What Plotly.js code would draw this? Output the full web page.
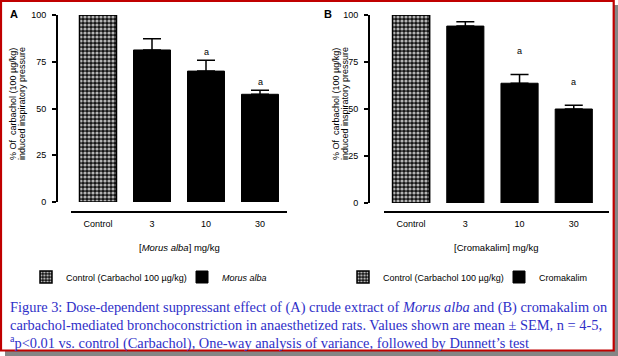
<!DOCTYPE html>
<html><head><meta charset="utf-8">
<script src="https://cdn.plot.ly/plotly-3.0.1.min.js"></script>
<style>html,body{margin:0;padding:0;background:#fff}#chart{width:618px;height:356px}</style>
</head><body><div id="chart"></div><script>
// ---- data ----
const categories = ['Control', '3', '10', '30'];
const morusValues = [100, 81.3, 70.0, 57.6];
const morusErrors = [0, 6.0, 5.8, 2.2];
const cromaValues = [100, 94.1, 63.7, 50.0];
const cromaErrors = [0, 2.3, 4.6, 2.0];
const sigMorus = ['', '', 'a', 'a'];
const sigCroma = ['', '', 'a', 'a'];
const yTickVals = [0, 25, 50, 75, 100];
const controlName = 'Control (Carbachol 100 µg/kg)';
const morusName = '<i>Morus alba</i>';
const cromaName = 'Cromakalim';
const yTitleLines = ['% Of  carbachol (100 µg/kg)', 'induced inspiratory pressure'];
const captionLines = [
  'Figure 3: Dose-dependent suppressant effect of (A) crude extract of <i>Morus alba</i> and (B) cromakalim on',
  'carbachol-mediated bronchoconstriction in anaesthetized rats. Values shown are mean ± SEM, n = 4-5,',
  '<sup>a</sup>p&lt;0.01 vs. control (Carbachol), One-way analysis of variance, followed by Dunnett’s test'
];

// ---- helpers ----
const W = 618, H = 356;
const px = v => v / W;
const py = v => 1 - v / H;
const FONT = 'Liberation Sans, Arial, sans-serif';
const pattern = {shape: '.', fgcolor: '#b4b4b4', bgcolor: '#151515', size: 4, solidity: 0.5, fillmode: 'replace'};

function panelTraces(values, errors, treatName, xa, ya, lg) {
  return [
    {type: 'bar', x: categories.slice(0, 1), y: values.slice(0, 1), name: controlName,
     xaxis: xa, yaxis: ya, legend: lg, legendwidth: 111, cliponaxis: false,
     marker: {color: '#151515', pattern: pattern, line: {color: '#000', width: 1.5}}},
    {type: 'bar', x: categories.slice(1), y: values.slice(1), name: treatName,
     xaxis: xa, yaxis: ya, legend: lg, cliponaxis: false,
     marker: {color: '#000000', line: {color: '#000', width: 1}},
     error_y: {type: 'data', symmetric: false, array: errors.slice(1),
               arrayminus: errors.slice(1).map(() => 0), color: '#000', thickness: 1.5, width: 9}}
  ];
}

const data = [
  ...panelTraces(morusValues, morusErrors, morusName, 'x', 'y', 'legend'),
  ...panelTraces(cromaValues, cromaErrors, cromaName, 'x2', 'y2', 'legend2')
];

function xAxis(d0, d1, rmax) {
  return {domain: [px(d0), px(d1)], anchor: 'free', position: py(212), type: 'category',
    range: [-0.5, rmax], showline: true, linewidth: 2, linecolor: '#000', ticks: '',
    ticklabelstandoff: 3,
    showgrid: false, zeroline: false, tickfont: {family: FONT, size: 9, color: '#000'}, fixedrange: true};
}
function yAxis(bottom, pos) {
  return {domain: [py(bottom), py(15)], anchor: 'free', position: px(pos), range: [0, 100],
    tickvals: yTickVals, ticks: 'outside', ticklen: 4, tickwidth: 2, tickcolor: '#000',
    showline: true, linewidth: 2, linecolor: '#000', showgrid: false, zeroline: false,
    ticklabelstandoff: 4, tickfont: {family: FONT, size: 9, color: '#000'}, fixedrange: true};
}

const annotations = [];
function txt(t, x, y, opts) {
  annotations.push(Object.assign({text: t, x: x, y: y, xref: 'paper', yref: 'paper', showarrow: false,
    xanchor: 'center', yanchor: 'middle', font: {family: FONT, size: 9, color: '#000'}}, opts || {}));
}
txt('<b>A</b>', px(8), py(14), {xanchor: 'left', font: {family: FONT, size: 11, color: '#000'}});
txt('<b>B</b>', px(322), py(14), {xanchor: 'left', font: {family: FONT, size: 11, color: '#000'}});
txt(yTitleLines[0], px(13), py(104), {textangle: -90});
txt(yTitleLines[1], px(22), py(104), {textangle: -90});
txt(yTitleLines[0], px(336), py(104), {textangle: -90});
txt(yTitleLines[1], px(345), py(104), {textangle: -90});
txt('[<i>Morus alba</i>] mg/kg', px(179), py(247), {font: {family: FONT, size: 9.5, color: '#000'}});
txt('[Cromakalim] mg/kg', px(496), py(247), {font: {family: FONT, size: 9.5, color: '#000'}});
captionLines.forEach((c, i) => txt(c, px(8), py(307 + i * 17.5), {xanchor: 'left',
  font: {family: 'Liberation Serif, serif', size: 14.4, color: '#2f2fc8'}}));

function sig(labels, values, errors, xa, ya, off) {
  labels.forEach((l, i) => {
    if (!l) return;
    annotations.push({text: l, x: i, y: values[i] + errors[i] + off, xref: xa, yref: ya,
      showarrow: false, xanchor: 'center', yanchor: 'middle', font: {family: FONT, size: 9, color: '#000'}});
  });
}
sig(sigMorus, morusValues, morusErrors, 'x', 'y', 4.6);
sig(sigCroma, cromaValues, cromaErrors, 'x2', 'y2', 12.5);

const legendBase = {orientation: 'h', yanchor: 'middle', xanchor: 'left', y: py(277),
  bgcolor: 'rgba(0,0,0,0)', borderwidth: 0, itemclick: false, itemdoubleclick: false,
  font: {family: FONT, size: 9, color: '#000'}};

const layout = {
  width: W, height: H, margin: {l: 0, r: 0, t: 0, b: 0, autoexpand: false},
  paper_bgcolor: '#ffffff', plot_bgcolor: 'rgba(0,0,0,0)',
  barmode: 'overlay', bargap: 0.315, showlegend: true,
  legend: Object.assign({}, legendBase, {x: px(26)}),
  legend2: Object.assign({}, legendBase, {x: px(343)}),
  xaxis: xAxis(71, 287, 3.5),
  yaxis: yAxis(202, 57),
  xaxis2: xAxis(384, 609, 3.65),
  yaxis2: yAxis(203, 369),
  annotations: annotations,
  shapes: [
    {type: 'rect', xref: 'paper', yref: 'paper', x0: px(5), x1: px(618), y0: py(5), y1: py(356),
     fillcolor: '#858585', line: {width: 0}, layer: 'below'},
    {type: 'rect', xref: 'paper', yref: 'paper', x0: px(1), x1: px(613.7), y0: py(1), y1: py(350.5),
     fillcolor: '#ffffff', line: {color: '#c00000', width: 2.2}, layer: 'below'}
  ]
};

Plotly.newPlot('chart', data, layout, {staticPlot: true, displayModeBar: false});
</script></body></html>
